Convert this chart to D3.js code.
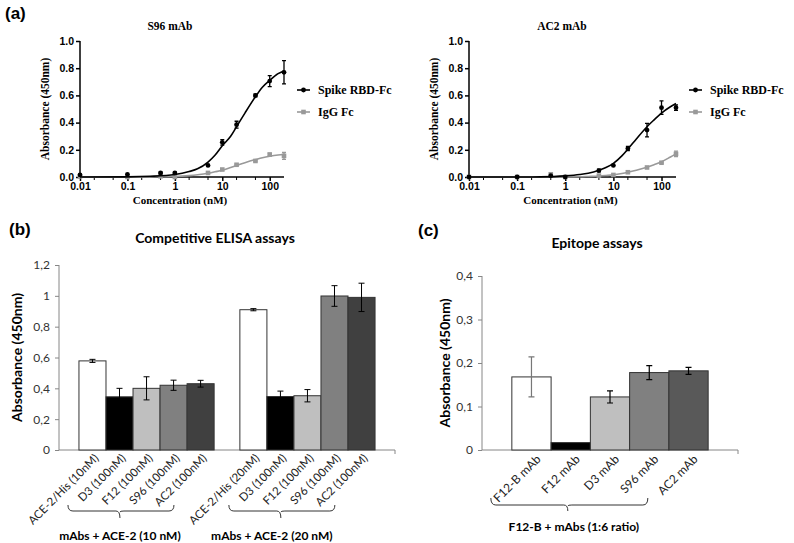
<!DOCTYPE html>
<html><head><meta charset="utf-8">
<script src="https://cdn.jsdelivr.net/npm/d3@7"></script>
<style>body{margin:0;background:#fff}svg{display:block}</style>
</head><body><svg id="c" width="794" height="543"></svg>
<script>
// ---------- Panel (a) data ----------
const conc = [0.01, 0.1, 0.5, 1, 5, 10, 20, 50, 100, 200];
const s96Spike = [0.015, 0.02, 0.03, 0.03, 0.085, 0.255, 0.385, 0.60, 0.705, 0.77];
const s96SpikeErr = [0, 0, 0.005, 0.005, 0, 0.02, 0.025, 0.01, 0.04, 0.085];
const s96IgG = [0.005, 0.0, 0.005, 0.0, 0.03, 0.055, 0.09, 0.118, 0.165, 0.155];
const s96IgGErr = [0, 0, 0, 0, 0, 0, 0.005, 0.005, 0.01, 0.025];
const ac2Spike = [0.0, 0.0, 0.01, 0.0, 0.047, 0.085, 0.21, 0.345, 0.51, 0.51];
const ac2SpikeErr = [0, 0, 0, 0, 0.01, 0, 0.015, 0.05, 0.05, 0.02];
const ac2IgG = [0.0, 0.0, 0.02, 0.0, 0.01, 0.015, 0.035, 0.07, 0.105, 0.17];
const ac2IgGErr = [0, 0, 0, 0, 0, 0, 0, 0, 0.005, 0.02];
// fitted curves
const fitConc = [0.01, 0.1, 0.3, 1, 2, 3, 5, 7, 10, 15, 20, 30, 50, 70, 100, 150, 200];
const s96SpikeFit = [0.0, 0.001, 0.005, 0.018, 0.04, 0.06, 0.11, 0.16, 0.23, 0.30, 0.37, 0.47, 0.59, 0.66, 0.71, 0.76, 0.78];
const s96IgGFit = [0.0, 0.0, 0.001, 0.004, 0.01, 0.016, 0.027, 0.038, 0.05, 0.07, 0.085, 0.105, 0.128, 0.142, 0.153, 0.162, 0.166];
const ac2SpikeFit = [0.0, 0.0, 0.001, 0.008, 0.018, 0.028, 0.05, 0.07, 0.1, 0.155, 0.205, 0.28, 0.37, 0.42, 0.47, 0.515, 0.54];
const ac2IgGFit = [0.0, 0.0, 0.0, 0.001, 0.002, 0.004, 0.007, 0.011, 0.016, 0.026, 0.035, 0.05, 0.072, 0.09, 0.112, 0.145, 0.17];
const doseYTicks = [0, 0.2, 0.4, 0.6, 0.8, 1.0];
const doseXTicks = [0.01, 0.1, 1, 10, 100];
const doseXTickLabels = ["0.01", "0.1", "1", "10", "100"];
const doseMinorTicks = [0.02, 0.05, 0.2, 0.5, 2, 5, 20, 50];
const legendNames = ["Spike RBD-Fc", "IgG Fc"];

// ---------- Panel (b) data ----------
const elisaGroups = ["mAbs + ACE-2 (10 nM)", "mAbs + ACE-2 (20 nM)"];
const elisaCats = [
  ["ACE-2/His (10nM)", "D3 (100nM)", "F12 (100nM)", "S96 (100nM)", "AC2 (100nM)"],
  ["ACE-2/His (20nM)", "D3 (100nM)", "F12 (100nM)", "S96 (100nM)", "AC2 (100nM)"]
];
const elisaVals = [[0.578, 0.345, 0.40, 0.42, 0.43], [0.91, 0.347, 0.352, 0.999, 0.99]];
const elisaErr = [[0.01, 0.055, 0.075, 0.033, 0.022], [0.007, 0.035, 0.04, 0.067, 0.092]];
const elisaTicks = [0, 0.2, 0.4, 0.6, 0.8, 1.0, 1.2];

// ---------- Panel (c) data ----------
const epiCats = ["F12-B mAb", "F12 mAb", "D3  mAb", "S96 mAb", "AC2 mAb"];
const epiVals = [0.168, 0.017, 0.122, 0.178, 0.182];
const epiErr = [0.046, 0, 0.014, 0.016, 0.008];
const epiTicks = [0, 0.1, 0.2, 0.3, 0.4];
const epiGroup = "F12-B + mAbs (1:6 ratio)";

const svg = d3.select("#c");
svg.append("rect").attr("width", 794).attr("height", 543).attr("fill", "#fff");

const SERIF = "'Liberation Serif','Times New Roman',serif";
const SANS = "'Liberation Sans',Arial,sans-serif";
const CAL = "Lato,'Open Sans',sans-serif";

// panel letters
[["(a)", 5, 19], ["(b)", 9, 235], ["(c)", 418, 236]].forEach(([t, x, y]) =>
  svg.append("text").attr("x", x).attr("y", y).text(t)
    .attr("font-family", SANS).attr("font-weight", "bold").attr("font-size", 17));

function dosePanel(o) {
  const x = d3.scaleLog().domain([0.01, 200]).range([o.x0, o.x1]);
  const y = d3.scaleLinear().domain([0, 1]).range([177, 41]);
  const g = svg.append("g");
  g.append("text").attr("x", o.tx).attr("y", 30).attr("text-anchor", "middle")
    .attr("font-family", SERIF).attr("font-weight", "bold").attr("font-size", 11.5).text(o.title);
  const ya = g.append("g").attr("transform", `translate(${o.x0},0)`)
    .call(d3.axisLeft(y).tickValues(doseYTicks).tickFormat(d3.format(".1f")).tickSize(4).tickPadding(2));
  ya.select(".domain").attr("stroke-width", 1.5).attr("d", `M0,${y(1)}V${y(0)}`);
  ya.selectAll(".tick line").attr("stroke-width", 1.5);
  ya.selectAll("text").attr("font-family", SANS).attr("font-weight", "bold").attr("font-size", 10.5).attr("fill", "#000");
  const xa = g.append("g").attr("transform", `translate(0,177)`)
    .call(d3.axisBottom(x).tickValues(doseXTicks).tickFormat((d, i) => doseXTickLabels[i]).tickSize(4).tickPadding(2));
  xa.select(".domain").attr("stroke-width", 1.5).attr("d", `M${o.x0},0H${o.x1}`);
  xa.selectAll(".tick line").attr("stroke-width", 1.5);
  xa.selectAll("text").attr("font-family", SANS).attr("font-weight", "bold").attr("font-size", 10.5).attr("fill", "#000");
  g.append("g").selectAll("line").data(doseMinorTicks).join("line")
    .attr("x1", d => x(d)).attr("x2", d => x(d)).attr("y1", 177).attr("y2", 180)
    .attr("stroke", "#000").attr("stroke-width", 1);
  g.append("text").attr("transform", `translate(${o.x0 - 31},${y(0.5)}) rotate(-90)`)
    .attr("text-anchor", "middle").attr("font-family", SERIF).attr("font-weight", "bold")
    .attr("font-size", 11.5).text("Absorbance (450nm)");
  g.append("text").attr("x", (o.x0 + o.x1) / 2 - 2).attr("y", 204).attr("text-anchor", "middle")
    .attr("font-family", SERIF).attr("font-weight", "bold").attr("font-size", 11).text("Concentration (nM)");

  const line = d3.line().x(d => x(d[0])).y(d => y(d[1])).curve(d3.curveMonotoneX);
  const series = [
    { vals: o.spike, err: o.spikeErr, fit: o.spikeFit, color: "#000", shape: "circle" },
    { vals: o.igg, err: o.iggErr, fit: o.iggFit, color: "#999", shape: "square" }
  ];
  series.slice().reverse().forEach(s => {
    g.append("path").attr("d", line(fitConc.map((c, i) => [c, s.fit[i]])))
      .attr("fill", "none").attr("stroke", s.color).attr("stroke-width", 1.6);
    const eb = g.append("g");
    conc.forEach((c, i) => {
      if (s.err[i] > 0) {
        const cx = x(c), yt = y(s.vals[i] + s.err[i]), yb = y(s.vals[i] - s.err[i]);
        eb.append("path").attr("d", `M${cx},${yt}V${yb}M${cx - 2},${yt}H${cx + 2}M${cx - 2},${yb}H${cx + 2}`)
          .attr("stroke", s.color).attr("stroke-width", 1.3).attr("fill", "none");
      }
    });
    conc.forEach((c, i) => {
      if (s.shape === "circle")
        g.append("circle").attr("cx", x(c)).attr("cy", y(s.vals[i])).attr("r", 2.4).attr("fill", s.color);
      else
        g.append("rect").attr("x", x(c) - 2.3).attr("y", y(s.vals[i]) - 2.3).attr("width", 4.6).attr("height", 4.6).attr("fill", s.color);
    });
  });
  series.forEach((s, i) => {
    const ly = 90 + i * 22;
    g.append("line").attr("x1", o.lx).attr("x2", o.lx + 13).attr("y1", ly).attr("y2", ly)
      .attr("stroke", s.color).attr("stroke-width", 1.6);
    if (s.shape === "circle")
      g.append("circle").attr("cx", o.lx + 6.5).attr("cy", ly).attr("r", 2.4).attr("fill", s.color);
    else
      g.append("rect").attr("x", o.lx + 4.2).attr("y", ly - 2.3).attr("width", 4.6).attr("height", 4.6).attr("fill", s.color);
    g.append("text").attr("x", o.lx + 21).attr("y", ly + 4).attr("font-family", SERIF)
      .attr("font-weight", "bold").attr("font-size", 12).text(legendNames[i]);
  });
}

dosePanel({ x0: 80, x1: 284, title: "S96 mAb", tx: 170, lx: 297,
  spike: s96Spike, spikeErr: s96SpikeErr, igg: s96IgG, iggErr: s96IgGErr, spikeFit: s96SpikeFit, iggFit: s96IgGFit });
dosePanel({ x0: 469, x1: 676, title: "AC2 mAb", tx: 562, lx: 689,
  spike: ac2Spike, spikeErr: ac2SpikeErr, igg: ac2IgG, iggErr: ac2IgGErr, spikeFit: ac2SpikeFit, iggFit: ac2IgGFit });

function brace(g, x1, x2, xm, yTop, yH, yTip) {
  g.append("path").attr("d",
    `M${x1},${yTop}Q${x1},${yH} ${x1 + 5},${yH}L${xm - 4},${yH}Q${xm},${yH} ${xm},${yTip}` +
    `M${xm},${yH + 1}Q${xm},${yH} ${xm + 4},${yH}L${x2 - 5},${yH}Q${x2},${yH} ${x2},${yTop}`)
    .attr("fill", "none").attr("stroke", "#333").attr("stroke-width", 1);
}

function barAxes(g, y, x0, x1, ticks, fmt, labelX) {
  const ya = g.append("g").attr("transform", `translate(${x0},0)`)
    .call(d3.axisLeft(y).tickValues(ticks).tickFormat(fmt).tickSize(4).tickPadding(5));
  ya.select(".domain").attr("stroke", "#868686").attr("d", `M0,${y(ticks[ticks.length - 1])}V${y(0)}`);
  ya.selectAll(".tick line").attr("stroke", "#868686");
  ya.selectAll("text").attr("font-family", CAL).attr("font-size", 12).attr("fill", "#333");
  g.append("line").attr("x1", x0).attr("x2", x1).attr("y1", y(0)).attr("y2", y(0)).attr("stroke", "#868686");
  g.append("line").attr("x1", x1).attr("x2", x1).attr("y1", y(0)).attr("y2", y(0) + 4).attr("stroke", "#868686");
  g.append("text").attr("transform", `translate(${labelX},${(y(0) + y(ticks[ticks.length - 1])) / 2}) rotate(-90)`)
    .attr("text-anchor", "middle").attr("dy", "0.35em").attr("font-family", CAL).attr("font-weight", "bold")
    .attr("font-size", 14).text("Absorbance (450nm)");
}
const commaFmt = d => d === 0 ? "0" : String(d).replace(".", ",");

// ---------- Panel (b) ----------
(function () {
  const g = svg.append("g");
  const y = d3.scaleLinear().domain([0, 1.2]).range([450, 265]);
  const xg = d3.scaleBand().domain(d3.range(2)).range([59, 395]).paddingInner(0.16).paddingOuter(0.124);
  const xi = d3.scaleBand().domain(d3.range(5)).range([0, xg.bandwidth()]);
  const fills = ["#ffffff", "#000000", "#bfbfbf", "#808080", "#404040"];
  g.append("text").attr("x", 215).attr("y", 243).attr("text-anchor", "middle").attr("font-family", CAL)
    .attr("font-weight", "bold").attr("font-size", 14).text("Competitive ELISA assays");
  barAxes(g, y, 59, 395, elisaTicks, commaFmt, 17);
  elisaVals.forEach((vals, gi) => {
    const gx = xg(gi);
    vals.forEach((v, i) => {
      const bx = gx + xi(i), cx = bx + xi.bandwidth() / 2;
      g.append("rect").attr("x", bx).attr("y", y(v)).attr("width", xi.bandwidth()).attr("height", y(0) - y(v))
        .attr("fill", fills[i]).attr("stroke", "#333").attr("stroke-width", 1);
      const e = elisaErr[gi][i];
      g.append("path").attr("d", `M${cx},${y(v + e)}V${y(v - e)}M${cx - 3},${y(v + e)}H${cx + 3}M${cx - 3},${y(v - e)}H${cx + 3}`)
        .attr("stroke", "#000").attr("stroke-width", 1).attr("fill", "none");
      g.append("text").attr("transform", `translate(${cx + 4},${y(0) + 6}) rotate(-45)`)
        .attr("text-anchor", "end").attr("dy", "0.35em").attr("font-family", CAL).attr("font-size", 11.5)
        .attr("fill", "#222").text(elisaCats[gi][i]);
    });
    brace(g, gx - 11, gx + 95, gx + 41, 505, 511, 518);
    g.append("text").attr("x", gx + (gi === 0 ? 41 : 32)).attr("y", 540).attr("text-anchor", "middle")
      .attr("font-family", CAL).attr("font-weight", "bold").attr("font-size", 12).text(elisaGroups[gi]);
  });
})();

// ---------- Panel (c) ----------
(function () {
  const g = svg.append("g");
  const y = d3.scaleLinear().domain([0, 0.4]).range([450, 276]);
  const x = d3.scaleBand().domain(d3.range(5)).range([482, 738]).paddingOuter(0.76);
  const fills = ["#ffffff", "#000000", "#bfbfbf", "#808080", "#595959"];
  const errCol = ["#777", "#000", "#000", "#000", "#000"];
  g.append("text").attr("x", 597).attr("y", 248).attr("text-anchor", "middle").attr("font-family", CAL)
    .attr("font-weight", "bold").attr("font-size", 14).text("Epitope assays");
  barAxes(g, y, 482, 738, epiTicks, commaFmt, 445);
  epiVals.forEach((v, i) => {
    const bx = x(i), cx = bx + x.bandwidth() / 2;
    g.append("rect").attr("x", bx).attr("y", y(v)).attr("width", x.bandwidth()).attr("height", y(0) - y(v))
      .attr("fill", fills[i]).attr("stroke", "#333").attr("stroke-width", 1);
    const e = epiErr[i];
    if (e > 0)
      g.append("path").attr("d", `M${cx},${y(v + e)}V${y(v - e)}M${cx - 3},${y(v + e)}H${cx + 3}M${cx - 3},${y(v - e)}H${cx + 3}`)
        .attr("stroke", errCol[i]).attr("stroke-width", 1.2).attr("fill", "none");
    g.append("text").attr("transform", `translate(${cx + 7},${y(0) + 7}) rotate(-45)`)
      .attr("text-anchor", "end").attr("dy", "0.35em").attr("font-family", CAL).attr("font-size", 12)
      .attr("fill", "#222").text(epiCats[i]);
  });
  const x0 = x(0);
  brace(g, x0 - 21, x0 + 136, x0 + 56, 498, 505, 511);
  g.append("text").attr("x", x0 + 62).attr("y", 531).attr("text-anchor", "middle")
    .attr("font-family", CAL).attr("font-weight", "bold").attr("font-size", 12).text(epiGroup);
})();
</script></body></html>
